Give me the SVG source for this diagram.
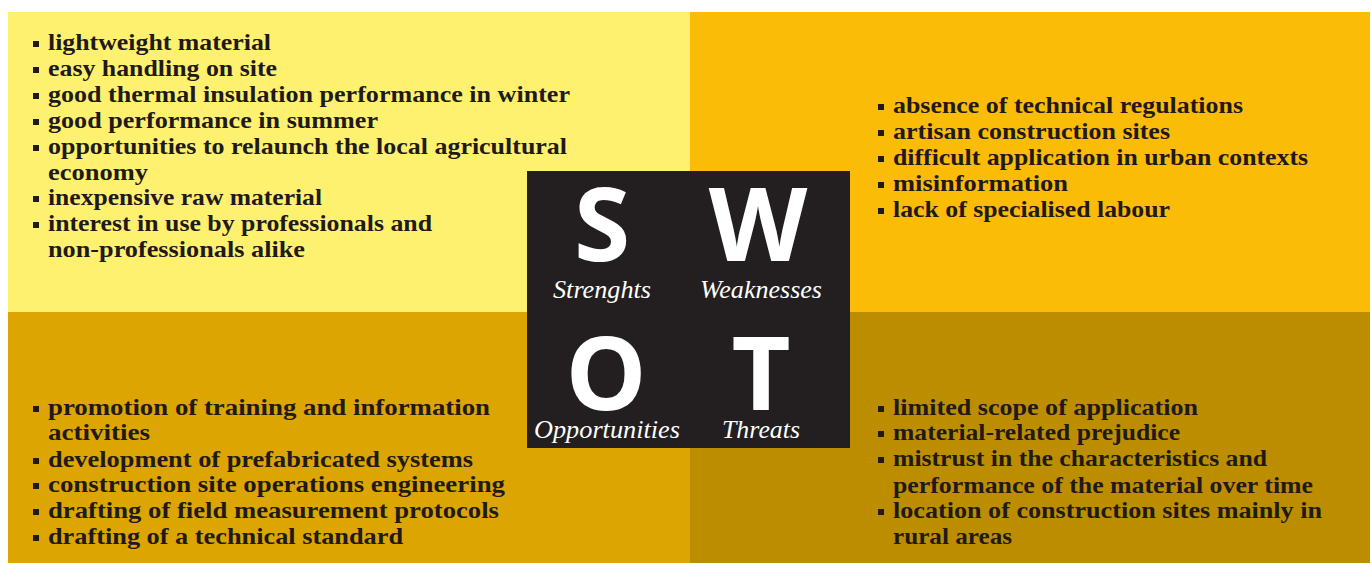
<svg xmlns="http://www.w3.org/2000/svg" width="1371" height="565" viewBox="0 0 1371 565">
<style>
.t{font-family:"Liberation Serif","Times New Roman",serif;font-weight:bold;font-size:24px;fill:#1f1a17}
.b{fill:#1f1a17}
.big{font-family:"Open Sans","Liberation Sans",sans-serif;font-weight:bold;font-size:102px;fill:#fff;text-anchor:middle}
.lab{font-family:"Liberation Serif","Times New Roman",serif;font-style:italic;font-size:26px;fill:#fff;text-anchor:middle}
</style>
<rect width="1371" height="565" fill="#fff"/>
<g id="strengths">
<rect x="8" y="12" width="682" height="300" fill="#fef16f"/>
<g class="b">
<rect x="33" y="41" width="6" height="6"/><rect x="33" y="67" width="6" height="6"/><rect x="33" y="93" width="6" height="6"/><rect x="33" y="119" width="6" height="6"/><rect x="33" y="145" width="6" height="6"/><rect x="33" y="196" width="6" height="6"/><rect x="33" y="222" width="6" height="6"/>
</g>
<text class="t" x="48" y="50" textLength="223" lengthAdjust="spacingAndGlyphs">lightweight material</text>
<text class="t" x="48" y="76" textLength="229" lengthAdjust="spacingAndGlyphs">easy handling on site</text>
<text class="t" x="48" y="102" textLength="522" lengthAdjust="spacingAndGlyphs">good thermal insulation performance in winter</text>
<text class="t" x="48" y="128" textLength="330" lengthAdjust="spacingAndGlyphs">good performance in summer</text>
<text class="t" x="48" y="154" textLength="519" lengthAdjust="spacingAndGlyphs">opportunities to relaunch the local agricultural</text>
<text class="t" x="48" y="180" textLength="100" lengthAdjust="spacingAndGlyphs">economy</text>
<text class="t" x="48" y="205" textLength="274" lengthAdjust="spacingAndGlyphs">inexpensive raw material</text>
<text class="t" x="48" y="231" textLength="384" lengthAdjust="spacingAndGlyphs">interest in use by professionals and</text>
<text class="t" x="48" y="257" textLength="257" lengthAdjust="spacingAndGlyphs">non-professionals alike</text>
</g>
<g id="weaknesses">
<rect x="690" y="12" width="680" height="300" fill="#fbbc08"/>
<g class="b">
<rect x="878" y="104" width="6" height="6"/><rect x="878" y="130" width="6" height="6"/><rect x="878" y="156" width="6" height="6"/><rect x="878" y="182" width="6" height="6"/><rect x="878" y="208" width="6" height="6"/>
</g>
<text class="t" x="893" y="113" textLength="350" lengthAdjust="spacingAndGlyphs">absence of technical regulations</text>
<text class="t" x="893" y="139" textLength="277" lengthAdjust="spacingAndGlyphs">artisan construction sites</text>
<text class="t" x="893" y="165" textLength="415" lengthAdjust="spacingAndGlyphs">difficult application in urban contexts</text>
<text class="t" x="893" y="191" textLength="175" lengthAdjust="spacingAndGlyphs">misinformation</text>
<text class="t" x="893" y="217" textLength="277" lengthAdjust="spacingAndGlyphs">lack of specialised labour</text>
</g>
<g id="opportunities">
<rect x="8" y="312" width="682" height="251" fill="#dca502"/>
<g class="b">
<rect x="33" y="406" width="6" height="6"/><rect x="33" y="458" width="6" height="6"/><rect x="33" y="483" width="6" height="6"/><rect x="33" y="509" width="6" height="6"/><rect x="33" y="535" width="6" height="6"/>
</g>
<text class="t" x="48" y="415" textLength="442" lengthAdjust="spacingAndGlyphs">promotion of training and information</text>
<text class="t" x="48" y="440" textLength="102" lengthAdjust="spacingAndGlyphs">activities</text>
<text class="t" x="48" y="467" textLength="425" lengthAdjust="spacingAndGlyphs">development of prefabricated systems</text>
<text class="t" x="48" y="492" textLength="457" lengthAdjust="spacingAndGlyphs">construction site operations engineering</text>
<text class="t" x="48" y="518" textLength="451" lengthAdjust="spacingAndGlyphs">drafting of field measurement protocols</text>
<text class="t" x="48" y="544" textLength="355" lengthAdjust="spacingAndGlyphs">drafting of a technical standard</text>
</g>
<g id="threats">
<rect x="690" y="312" width="680" height="251" fill="#bd8d00"/>
<g class="b">
<rect x="878" y="406" width="6" height="6"/><rect x="878" y="431" width="6" height="6"/><rect x="878" y="457" width="6" height="6"/><rect x="878" y="509" width="6" height="6"/>
</g>
<text class="t" x="893" y="415" textLength="305" lengthAdjust="spacingAndGlyphs">limited scope of application</text>
<text class="t" x="893" y="440" textLength="287" lengthAdjust="spacingAndGlyphs">material-related prejudice</text>
<text class="t" x="893" y="466" textLength="374" lengthAdjust="spacingAndGlyphs">mistrust in the characteristics and</text>
<text class="t" x="893" y="493" textLength="420" lengthAdjust="spacingAndGlyphs">performance of the material over time</text>
<text class="t" x="893" y="518" textLength="429" lengthAdjust="spacingAndGlyphs">location of construction sites mainly in</text>
<text class="t" x="893" y="544" textLength="119" lengthAdjust="spacingAndGlyphs">rural areas</text>
</g>
<g id="swot-center">
<rect x="527" y="171" width="323" height="277" fill="#231f20"/>
<text class="big" x="602" y="261">S</text>
<text class="big" x="758" y="261">W</text>
<text class="big" x="606" y="410">O</text>
<text class="big" x="761" y="410">T</text>
<text class="lab" x="602" y="298" textLength="98" lengthAdjust="spacingAndGlyphs">Strenghts</text>
<text class="lab" x="761" y="298" textLength="122" lengthAdjust="spacingAndGlyphs">Weaknesses</text>
<text class="lab" x="607" y="438" textLength="146" lengthAdjust="spacingAndGlyphs">Opportunities</text>
<text class="lab" x="761" y="438" textLength="78" lengthAdjust="spacingAndGlyphs">Threats</text>
</g>
</svg>
